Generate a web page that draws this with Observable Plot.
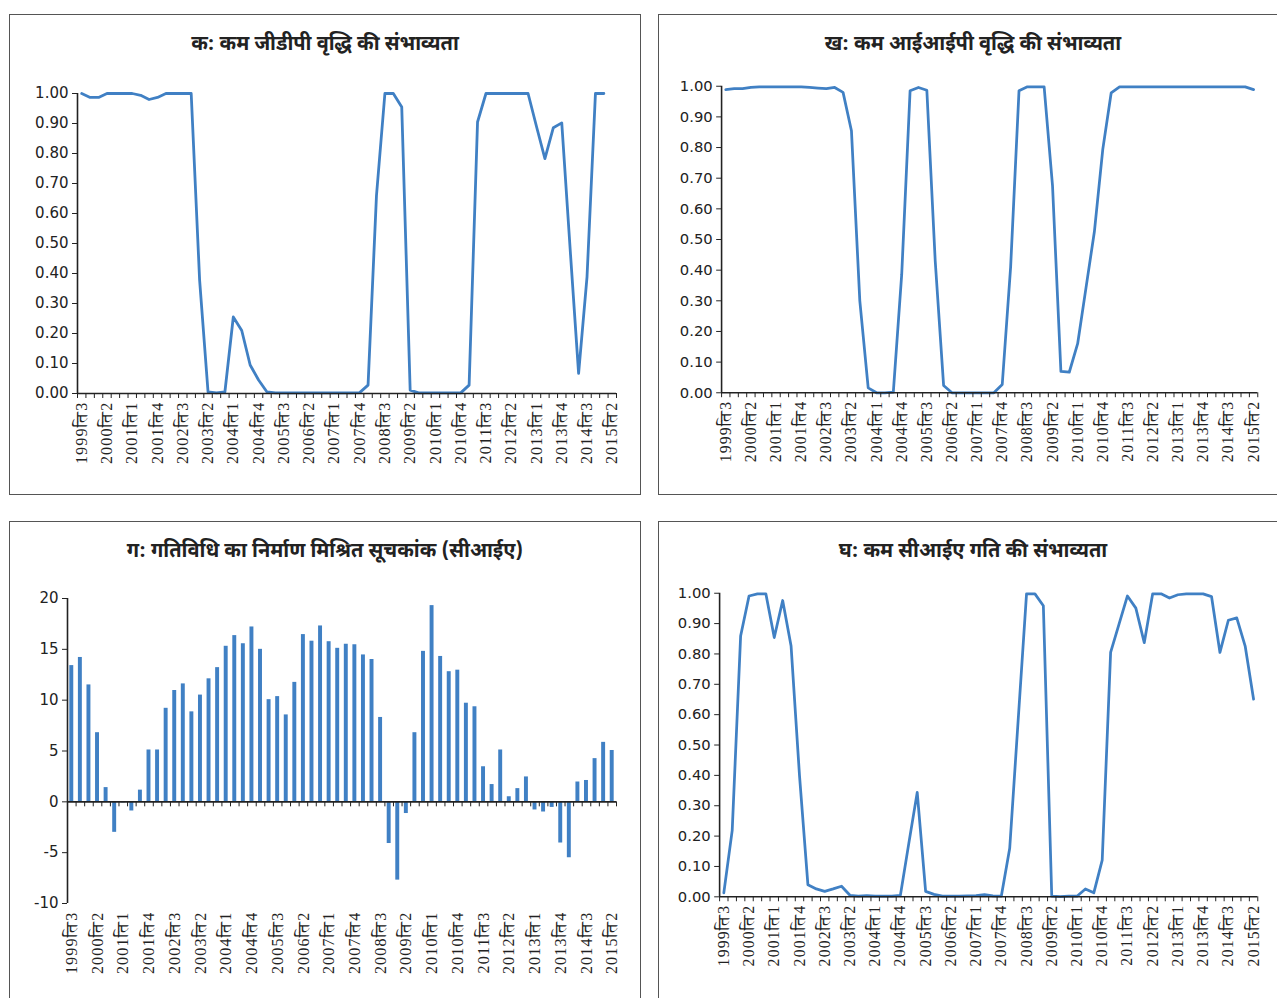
<!DOCTYPE html>
<html>
<head>
<meta charset="utf-8">
<script src="https://cdn.jsdelivr.net/npm/d3@7"></script>
<script src="https://cdn.jsdelivr.net/npm/@observablehq/plot@0.6"></script>
<style>
  html, body { margin: 0; padding: 0; background: #fff; }
  body { width: 1277px; height: 998px; overflow: hidden; position: relative; }
  .panel { position: absolute; border: 1px solid #555; box-sizing: border-box; }
  .title { position: absolute; text-align: center; font-weight: bold; font-size: 20px; line-height: 24px; color: #222;
           font-family: "Noto Sans Devanagari", "Noto Serif Devanagari", "Lohit Devanagari", "FreeSerif", "Noto Sans", sans-serif; }
  .chart { position: absolute; }
  .chart svg { overflow: visible; }
  .chart svg g[aria-label="x-axis tick label"] text { letter-spacing: 1.2px; }
</style>
</head>
<body>
<div class="panel" style="left:9px;top:14px;width:632px;height:481px"></div>
<div class="panel" style="left:658px;top:14px;width:630px;height:481px"></div>
<div class="panel" style="left:9px;top:521px;width:632px;height:490px"></div>
<div class="panel" style="left:658px;top:521px;width:630px;height:490px"></div>

<div class="title" style="left:9px;width:632px;top:33px">क: कम जीडीपी वृद्धि की संभाव्यता</div>
<div class="title" style="left:658px;width:630px;top:33px">ख: कम आईआईपी वृद्धि की संभाव्यता</div>
<div class="title" style="left:9px;width:632px;top:540px">ग: गतिविधि का निर्माण मिश्रित सूचकांक (सीआईए)</div>
<div class="title" style="left:658px;width:630px;top:540px">घ: कम सीआईए गति की संभाव्यता</div>

<div class="chart" id="cA" style="left:9px;top:75px"></div>
<div class="chart" id="cB" style="left:658px;top:68px"></div>
<div class="chart" id="cC" style="left:9px;top:580px"></div>
<div class="chart" id="cD" style="left:658px;top:575px"></div>

<script>
// Categories: quarters 1999ति3 … 2015ति2
const quarters = [];
for (let y = 1999, q = 3; quarters.length < 64; ) {
  quarters.push(y + "ति" + q);
  q++; if (q > 4) { q = 1; y++; }
}
const xTickLabels = ["1999ति3","2000ति2","2001ति1","2001ति4","2002ति3","2003ति2","2004ति1","2004ति4",
  "2005ति3","2006ति2","2007ति1","2007ति4","2008ति3","2009ति2","2010ति1","2010ति4",
  "2011ति3","2012ति2","2013ति1","2013ति4","2014ति3","2015ति2"];

const probTicks = [0,0.1,0.2,0.3,0.4,0.5,0.6,0.7,0.8,0.9,1.0];
const ciaTicks = [-10,-5,0,5,10,15,20];

// क: probability of low GDP growth (last quarter not available)
const gdpProb = [1.00,0.987,0.987,1.00,1.00,1.00,1.00,0.994,0.98,0.987,
  1.00,1.00,1.00,1.00,0.378,0.005,0.002,0.005,0.255,0.21,
  0.095,0.045,0.005,0.002,0.002,0.002,0.002,0.002,0.002,0.002,
  0.002,0.002,0.002,0.003,0.028,0.66,1.00,1.00,0.955,0.011,
  0.002,0.002,0.002,0.002,0.002,0.002,0.028,0.905,1.00,1.00,
  1.00,1.00,1.00,1.00,0.89,0.783,0.886,0.902,0.48,0.067,
  0.389,1.00,1.00,null];

// ख: probability of low IIP growth
const iipProb = [0.989,0.992,0.992,0.996,0.998,0.998,0.998,0.998,0.998,0.998,
  0.996,0.994,0.992,0.996,0.98,0.855,0.30,0.016,0.0,0.0,
  0.002,0.386,0.985,0.996,0.987,0.43,0.024,0.0,0.0,0.0,
  0.0,0.0,0.0,0.027,0.41,0.985,0.998,0.998,0.998,0.676,
  0.07,0.067,0.16,0.343,0.526,0.794,0.978,0.998,0.998,0.998,
  0.998,0.998,0.998,0.998,0.998,0.998,0.998,0.998,0.998,0.998,
  0.998,0.998,0.998,0.989];

// ग: composite index of activity (CIA)
const ciaIndex = [13.4,14.2,11.5,6.8,1.4,-3.0,-0.1,-0.9,1.15,5.1,
  5.1,9.2,10.95,11.6,8.85,10.5,12.1,13.2,15.3,16.35,
  15.55,17.2,15.0,10.05,10.35,8.55,11.75,16.45,15.8,17.3,
  15.75,15.1,15.5,15.45,14.45,14.0,8.3,-4.1,-7.7,-1.15,
  6.8,14.8,19.3,14.3,12.8,12.95,9.7,9.35,3.45,1.7,
  5.1,0.5,1.3,2.45,-0.8,-1.0,-0.55,-4.05,-5.5,1.95,
  2.1,4.25,5.85,5.05];

// घ: probability of low CIA momentum
const ciaProb = [0.013,0.219,0.859,0.991,0.998,0.998,0.854,0.976,0.826,0.40,
  0.04,0.026,0.018,0.026,0.035,0.005,0.002,0.004,0.002,0.002,
  0.002,0.005,0.176,0.344,0.018,0.008,0.002,0.002,0.002,0.003,
  0.004,0.007,0.003,0.002,0.16,0.58,0.998,0.998,0.959,0.002,
  0.001,0.002,0.002,0.026,0.013,0.121,0.805,0.898,0.991,0.951,
  0.837,0.998,0.998,0.984,0.995,0.998,0.998,0.998,0.989,0.805,
  0.911,0.919,0.826,0.651];

const BLUE = "#4080c4";
const AXIS = "#222";
const NUMFONT = "DejaVu Sans, Noto Sans, sans-serif";
const LABFONT = "Liberation Serif, FreeSerif, Noto Serif Devanagari, serif";

function makePanel({el, width, mL, mR, mT, mB, plotH, yDomain, yTicks, yFmt, series, kind}) {
  const height = mT + plotH + mB;
  const bw = (width - mL - mR) / quarters.length;
  const tickLen = 5 * (yDomain[1] - yDomain[0]) / plotH;
  const data = quarters.map((q, i) => ({q, v: series[i]}));
  const marks = [];
  if (kind === "bar") {
    marks.push(Plot.barY(data, {x: "q", y: "v", fill: BLUE, insetLeft: bw * 0.27, insetRight: bw * 0.27}));
  } else {
    marks.push(Plot.lineY(data, {x: "q", y: "v", stroke: BLUE, strokeWidth: 2.8, strokeLinejoin: "round"}));
  }
  marks.push(
    Plot.ruleY([0], {stroke: AXIS, strokeWidth: 1.6}),
    Plot.ruleX([quarters[0]], {dx: -bw / 2, stroke: AXIS, strokeWidth: 1.6}),
    Plot.ruleX(quarters, {y1: 0, y2: -tickLen, dx: -bw / 2, stroke: AXIS, strokeWidth: 1}),
    Plot.ruleX([quarters[quarters.length - 1]], {y1: 0, y2: -tickLen, dx: bw / 2, stroke: AXIS, strokeWidth: 1}),
    Plot.axisY({ticks: yTicks, tickFormat: yFmt, tickSize: 5, tickPadding: 4, label: null,
      fontSize: 15, fontFamily: NUMFONT, color: AXIS}),
    Plot.axisX({ticks: xTickLabels, tickSize: 0, tickPadding: 8, tickRotate: -90, label: null,
      fontSize: 16, fontFamily: LABFONT, color: AXIS})
  );
  const chart = Plot.plot({
    width, height,
    marginLeft: mL, marginRight: mR, marginTop: mT, marginBottom: mB,
    style: {background: "transparent", color: AXIS},
    x: {type: "band", domain: quarters, padding: 0, round: false, label: null},
    y: {domain: yDomain, label: null},
    marks
  });
  document.getElementById(el).append(chart);
}

const pfmt = d3.format(".2f");
const intFmt = d => String(d);   // plain hyphen-minus, as in the original
makePanel({el: "cA", width: 631, mL: 68, mR: 24, mT: 18, mB: 85, plotH: 300,
  yDomain: [0, 1], yTicks: probTicks, yFmt: pfmt, series: gdpProb, kind: "line"});
makePanel({el: "cB", width: 628, mL: 64, mR: 20, mT: 18, mB: 85, plotH: 311,
  yDomain: [0, 1], yTicks: probTicks, yFmt: pfmt, series: iipProb, kind: "line"});
makePanel({el: "cC", width: 631, mL: 58, mR: 24, mT: 18, mB: 85, plotH: 305,
  yDomain: [-10, 20], yTicks: ciaTicks, yFmt: intFmt, series: ciaIndex, kind: "bar"});
makePanel({el: "cD", width: 628, mL: 62, mR: 20, mT: 18, mB: 85, plotH: 308,
  yDomain: [0, 1], yTicks: probTicks, yFmt: pfmt, series: ciaProb, kind: "line"});
</script>
</body>
</html>
